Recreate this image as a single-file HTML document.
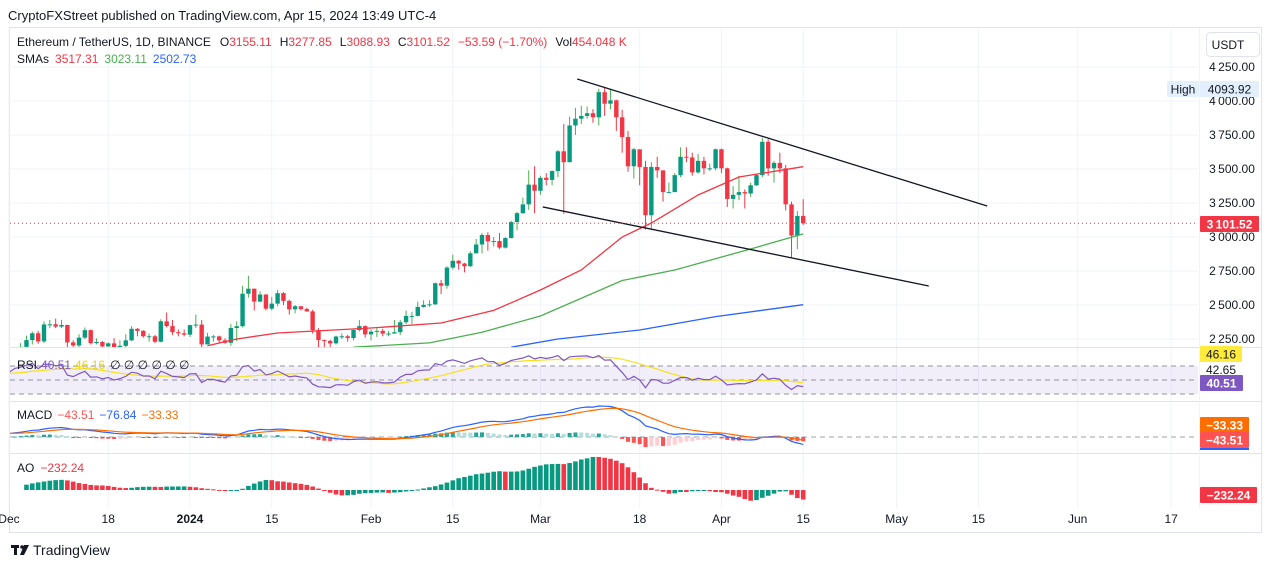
<!DOCTYPE html>
<html><head><meta charset="utf-8"><style>
html,body{margin:0;padding:0;background:#fff;}
svg{display:block;font-family:"Liberation Sans",sans-serif;}
</style></head><body>
<svg id="c" width="1273" height="568" viewBox="0 0 1273 568" xmlns="http://www.w3.org/2000/svg">
<defs>
<clipPath id="mainClip"><rect x="10" y="29" width="1188" height="318"/></clipPath>
<clipPath id="indClip"><rect x="10" y="348" width="1188" height="160"/></clipPath>
</defs>
<text x="8" y="20" font-size="13" fill="#131722">CryptoFXStreet published on TradingView.com, Apr 15, 2024 13:49 UTC-4</text>
<rect x="9.5" y="27.5" width="1252" height="505" fill="none" stroke="#e0e3eb"/>
<g id="grid"></g>
<rect x="10" y="366" width="1188" height="28" fill="#7e57c2" fill-opacity="0.1"/>
<g id="main" clip-path="url(#mainClip)"></g>
<g id="ind" clip-path="url(#indClip)"></g>
<g id="axes"></g>
<text x="17" y="46" font-size="12" fill="#131722">Ethereum / TetherUS, 1D, BINANCE<tspan dx="9">O</tspan><tspan fill="#f23645">3155.11</tspan><tspan dx="8">H</tspan><tspan fill="#f23645">3277.85</tspan><tspan dx="8">L</tspan><tspan fill="#f23645">3088.93</tspan><tspan dx="8">C</tspan><tspan fill="#f23645">3101.52</tspan><tspan dx="8" fill="#f23645">−53.59 (−1.70%)</tspan><tspan dx="8">Vol</tspan><tspan fill="#f23645">454.048 K</tspan></text>
<text x="17" y="63" font-size="12" fill="#131722">SMAs<tspan dx="6" fill="#f23645">3517.31</tspan><tspan dx="6" fill="#4caf50">3023.11</tspan><tspan dx="6" fill="#2962ff">2502.73</tspan></text>
<text x="17" y="369" font-size="12" fill="#131722">RSI<tspan dx="4" fill="#7e57c2">40.51</tspan><tspan dx="4" fill="#e6d51c">46.16</tspan><tspan dx="5">∅ ∅ ∅ ∅ ∅ ∅</tspan></text>
<text x="17" y="419" font-size="12" fill="#131722">MACD<tspan dx="5" fill="#ff5252">−43.51</tspan><tspan dx="5" fill="#2962ff">−76.84</tspan><tspan dx="5" fill="#ff6d00">−33.33</tspan></text>
<text x="17" y="472" font-size="12" fill="#131722">AO<tspan dx="6" fill="#f23645">−232.24</tspan></text>
<rect x="1206.5" y="32.5" width="53" height="24" rx="4" fill="#fff" stroke="#e0e3eb"/>
<text x="1228" y="49" font-size="12" text-anchor="middle" fill="#131722">USDT</text>
<g>
<rect x="11" y="545" width="8" height="3" fill="#131722"/><rect x="14" y="545" width="3" height="10" fill="#131722"/>
<circle cx="22" cy="547" r="1.8" fill="#131722"/><polygon points="24,545 29,545 24,555 20,555" fill="#131722"/>
<text x="33" y="555" font-size="14" fill="#131722">TradingView</text>
</g>
</svg>
<script>
// ---- data (Nov 1 2023 .. Apr 15 2024, daily) ----
const closes=[1846,1808,1832,1857,1893,1899,1887,1887,2120,2077,2052,2045,2055,1980,2060,1961,1962,1963,2013,2022,1930,2063,2062,2082,2085,2063,2028,2048,2028,2052,
2088,2165,2192,2242,2292,2232,2357,2358,2341,2353,2225,2202,2260,2315,2220,2228,2196,2218,2178,2200,2240,2325,2310,2270,2270,2230,2380,2345,2300,2292,2282,
2352,2356,2210,2268,2269,2240,2222,2331,2344,2583,2620,2525,2577,2473,2510,2587,2530,2468,2491,2470,2453,2315,2242,2236,2218,2268,2270,2257,2316,2345,2284,
2304,2310,2290,2290,2300,2373,2420,2420,2486,2501,2505,2660,2642,2775,2825,2805,2785,2880,2945,3015,2968,2970,2922,2992,3110,3175,3240,3385,3340,
3435,3420,3485,3630,3550,3820,3870,3890,3910,3880,4065,3980,4005,3880,3735,3520,3645,3515,3160,3515,3490,3330,3330,3455,3590,3585,3475,3560,3505,3505,3645,
3505,3280,3310,3330,3320,3380,3455,3700,3505,3545,3505,3240,3010,3155,3101.52];
const highs=[1860,1850,1840,1870,1910,1915,1905,1905,2135,2160,2090,2070,2080,2060,2070,2070,1990,1975,2025,2065,2030,2090,2075,2135,2100,2090,2070,2075,2070,2060,
2100,2170,2220,2275,2305,2310,2380,2390,2400,2390,2355,2240,2285,2335,2320,2255,2235,2225,2255,2240,2285,2345,2330,2315,2290,2280,2395,2445,2390,2320,2320,
2355,2430,2390,2295,2280,2275,2255,2360,2380,2640,2715,2620,2600,2580,2560,2610,2595,2540,2500,2475,2480,2465,2330,2245,2245,2275,2290,2280,2320,2390,2350,
2320,2330,2325,2310,2390,2390,2460,2450,2525,2535,2535,2665,2685,2785,2870,2830,2810,2895,2985,3030,3035,3000,3030,3000,3120,3185,3290,3490,3520,
3450,3470,3490,3640,3830,3885,3950,3965,3960,3940,4090,4095,4085,4010,3935,3780,3655,3625,3560,3550,3590,3470,3400,3470,3660,3660,3620,3610,3590,3540,3650,
3650,3510,3375,3450,3350,3400,3460,3730,3720,3560,3620,3530,3260,3190,3277.85];
const lows=[1790,1790,1785,1820,1850,1870,1850,1860,1880,2030,2030,2020,2030,1950,1960,1930,1940,1940,1955,1990,1930,1920,2035,2055,2070,2040,2000,2000,2015,2020,
2050,2085,2150,2180,2210,2215,2220,2330,2330,2330,2150,2165,2145,2250,2210,2210,2185,2130,2170,2160,2180,2235,2270,2260,2230,2220,2225,2335,2280,2270,2270,
2265,2330,2105,2210,2230,2220,2215,2200,2235,2335,2555,2460,2520,2460,2460,2490,2500,2430,2440,2460,2450,2290,2165,2190,2170,2210,2250,2230,2240,2305,2260,
2240,2265,2270,2270,2290,2280,2360,2360,2415,2480,2485,2500,2580,2620,2760,2760,2740,2780,2880,2880,2900,2930,2910,2915,2990,3050,3170,3200,3175,
3310,3380,3380,3440,3170,3550,3750,3830,3870,3840,3820,3890,3940,3780,3620,3480,3430,3380,3055,3050,3435,3260,3330,3350,3440,3550,3450,3465,3460,3485,3490,
3470,3220,3210,3270,3210,3295,3375,3440,3450,3400,3470,3195,2850,2910,3088.93];
const firstOpen=1810;
// SMA lines (day offset from Jan 1 2024, value)
const sma50Days=[3,8,15,31,43,52,60,67,74,79,87,94,105];
const sma50Vals=[2200,2250,2294,2331,2368,2460,2610,2757,3000,3103,3309,3441,3517];
const sma100Days=[28,41,50,60,74,83,96,105];
const sma100Vals=[2190,2221,2300,2419,2680,2757,2912,3023];
const sma200Days=[55,63,77,90,105];
const sma200Vals=[2190,2250,2316,2415,2502];
// axis ticks
const priceTicks=[4250,4000,3750,3500,3250,3000,2750,2500,2250];
const timeTickDays=[-31,-14,0,14,31,45,60,77,91,105,121,135,152,168];
const timeTickLabels=["Dec","18","2024","15","Feb","15","Mar","18","Apr","15","May","15","Jun","17"];
const trendUpper=[[66.3,4162],[136.5,3228]];   // [dayFromJan1, price]
const trendLower=[[60.4,3221],[126.5,2640]];

// ---- scales ----
const JAN1=61, PXD=5.84;
function dayX(d){return 190+d*PXD;}
function idxX(i){return dayX(i-JAN1);}
function priceY(p){return 67+(4250-p)*0.136;}
const NS="http://www.w3.org/2000/svg";
function mk(parent,tag,attrs){const e=document.createElementNS(NS,tag);for(const k in attrs)e.setAttribute(k,attrs[k]);parent.appendChild(e);return e;}
const grid=document.getElementById('grid'),main=document.getElementById('main'),ind=document.getElementById('ind'),axes=document.getElementById('axes');

// grid & price axis
priceTicks.forEach(p=>{
  const y=priceY(p);
  const g=mk(grid,'line',{x1:10,x2:1198,y1:y,y2:y,stroke:'#f0f3fa'});
  
  
  const t=mk(axes,'text',{x:1232,y:y+4,'font-size':12,'text-anchor':'middle',fill:'#131722'});
  t.textContent=String(p).replace(/^(\d)(\d{3})$/,'$1\u2009$2')+'.00';
  
  
});
timeTickDays.forEach((d,k)=>{
  const x=dayX(d);
  const g=mk(grid,'line',{x1:x,x2:x,y1:29,y2:508,stroke:'#f0f3fa'});
  
  
  const t=mk(axes,'text',{x:x,y:523,'font-size':12,'text-anchor':'middle',fill:'#131722','font-weight':timeTickLabels[k]==='2024'?'bold':'normal'});
  t.textContent=timeTickLabels[k];
  
  
});
// pane separators
[347,401,453].forEach(y=>{
  const l=mk(axes,'line',{x1:10,x2:1261,y1:y+0.5,y2:y+0.5,stroke:'#e0e3eb'});
  
  
});
const sepv=mk(axes,'line',{x1:1199.5,x2:1199.5,y1:28,y2:508,stroke:'#f0f3fa'});



// ---- candles ----
const N=Math.min(closes.length,highs.length,lows.length);
for(let i=0;i<N;i++){
  const o=i===0?firstOpen:closes[i-1], c=closes[i], x=idxX(i);
  if(x<0) continue;
  const up=c>=o, col=up?'#089981':'#f23645';
  const w=mk(main,'line',{x1:x,x2:x,y1:priceY(highs[i]),y2:priceY(lows[i]),stroke:up?'#4caf50':'#f23645','stroke-width':1});
  
  
  const yt=priceY(Math.max(o,c)),yb=priceY(Math.min(o,c));
  const b=mk(main,'rect',{x:x-2.2,y:yt,width:4.4,height:Math.max(1,yb-yt),fill:col});
  
  
}
function poly(parent,days,vals,col,name){
  const pts=days.map((d,k)=>dayX(d).toFixed(1)+','+priceY(vals[k]).toFixed(1)).join(' ');
  const p=mk(parent,'polyline',{points:pts,fill:'none',stroke:col,'stroke-width':1.3});
  
  
}
poly(main,sma50Days,sma50Vals,'#f23645','sma-50-line');
poly(main,sma100Days,sma100Vals,'#4caf50','sma-100-line');
poly(main,sma200Days,sma200Vals,'#2962ff','sma-200-line');
[trendUpper,trendLower].forEach((tl,k)=>{
  const l=mk(main,'line',{x1:dayX(tl[0][0]),y1:priceY(tl[0][1]),x2:dayX(tl[1][0]),y2:priceY(tl[1][1]),stroke:'#131722','stroke-width':1.3});
  
  
});
const lastY=priceY(closes[N-1]);
const pl=mk(main,'line',{x1:10,x2:1198,y1:lastY,y2:lastY,stroke:'#f23645','stroke-dasharray':'1 3'});



// ---- indicators (computed from closes / highs / lows) ----
function sma(a,n,i){if(i<n-1)return null;let s=0;for(let k=i-n+1;k<=i;k++)s+=a[k];return s/n;}
function ema(a,n){const r=[];const al=2/(n+1);a.forEach((v,i)=>r.push(i===0?v:al*v+(1-al)*r[i-1]));return r;}
const rsi=[];let ag=0,al=0;
for(let i=1;i<N;i++){
  const ch=closes[i]-closes[i-1],g=Math.max(ch,0),l=Math.max(-ch,0);
  if(i<=14){ag+=g/14;al+=l/14;}else{ag=(ag*13+g)/14;al=(al*13+l)/14;}
  rsi[i]=i>=14?100-100/(1+ag/(al||1e-9)):null;
}
const rsiMa=[];for(let i=0;i<N;i++){if(i<27){rsiMa[i]=null;continue;}let s=0;for(let k=i-13;k<=i;k++)s+=rsi[k];rsiMa[i]=s/14;}
function rsiY(v){return 380-(v-50)*0.7;}
[[366,'rsi-upper-band'],[380,'rsi-middle-band'],[394,'rsi-lower-band']].forEach(b=>{
  const l=mk(ind,'line',{x1:10,x2:1198,y1:b[0],y2:b[0],stroke:'#787b86','stroke-dasharray':'5 4','stroke-width':1,'stroke-opacity':0.8});
  
  
});
function series(arr,yf,col,name){
  const pts=[];for(let i=0;i<N;i++){if(arr[i]==null)continue;const x=idxX(i);if(x<6)continue;pts.push(x.toFixed(1)+','+yf(arr[i]).toFixed(1));}
  const p=mk(ind,'polyline',{points:pts.join(' '),fill:'none',stroke:col,'stroke-width':1.2});
  
  
}
series(rsiMa,rsiY,'#f5e11b','rsi-ma-line');
series(rsi,rsiY,'#7e57c2','rsi-line');
const e12=ema(closes,12),e26=ema(closes,26);
const macd=closes.map((_,i)=>e12[i]-e26[i]);const sig=ema(macd,9);
let mmax=1;for(let i=0;i<N;i++){if(idxX(i)>=8)mmax=Math.max(mmax,Math.abs(macd[i]),Math.abs(sig[i]));}
function macdY(v){return 437-v*(31/mmax);}
const z=mk(ind,'line',{x1:10,x2:1198,y1:437,y2:437,stroke:'#787b86','stroke-dasharray':'5 4','stroke-opacity':0.7});


for(let i=1;i<N;i++){
  const x=idxX(i);if(x<8)continue;
  const h=macd[i]-sig[i],hp=macd[i-1]-sig[i-1];
  const col=h>=0?(h>=hp?'#26a69a':'#b2dfdb'):(h<hp?'#ff5252':'#ffcdd2');
  const y=macdY(h);
  const r=mk(ind,'rect',{x:x-2,y:Math.min(y,437),width:4,height:Math.max(1,Math.abs(y-437)),fill:col});
  
  
}
series(macd,macdY,'#2962ff','macd-line');
series(sig,macdY,'#ff6d00','macd-signal-line');
const med=closes.map((_,i)=>(highs[i]+lows[i])/2);
const ao=[];for(let i=0;i<N;i++){const a=sma(med,5,i),b=sma(med,34,i);ao[i]=(a==null||b==null)?null:a-b;}
let amax=1;for(let i=0;i<N;i++){if(ao[i]!=null&&idxX(i)>=8)amax=Math.max(amax,ao[i]);}
function aoY(v){return 490-v*(33/amax);}
for(let i=1;i<N;i++){
  const x=idxX(i);if(x<8||ao[i]==null)continue;
  const col=(ao[i-1]==null||ao[i]>=ao[i-1])?'#089981':'#f23645';
  const y=aoY(ao[i]);
  const r=mk(ind,'rect',{x:x-2.3,y:Math.min(y,490),width:4.6,height:Math.max(1,Math.abs(y-490)),fill:col});
  
  
}

// ---- axis labels / badges ----
function badge(y,txt,bg,fg,name,x,w){
  x=x||1200;w=w||59;
  const r=mk(axes,'rect',{x:x,y:y-8,width:w,height:16,fill:bg,rx:1});
  
  
  const t=mk(axes,'text',{x:x+w/2,y:y+4.5,'font-size':12,'text-anchor':'middle',fill:fg,'font-weight':fg==='#fff'?'bold':'normal'});
  t.textContent=txt;
  
  
}
badge(89,'High','#e3effd','#131722','high-marker',1167,32);
badge(89,'4093.92','#e3effd','#131722','high-price');
badge(224,'3\u2009101.52','#f23645','#fff','last-price');
badge(354,'46.16','#ffeb3b','#131722','rsi-ma-value',1200,42);
const t4265=mk(axes,'text',{x:1221,y:374,'font-size':12,'text-anchor':'middle',fill:'#131722'});
t4265.textContent='42.65';


badge(383,'40.51','#7e57c2','#fff','rsi-value',1200,43);
badge(425,'−33.33','#ff6d00','#fff','macd-signal-value',1200,49);
badge(440,'−43.51','#ff5252','#fff','macd-hist-value',1200,49);
const bl=mk(axes,'rect',{x:1200,y:448,width:49,height:2,fill:'#2962ff'});


badge(495,'−232.24','#f23645','#fff','ao-value',1200,57);
</script>
</body></html>
